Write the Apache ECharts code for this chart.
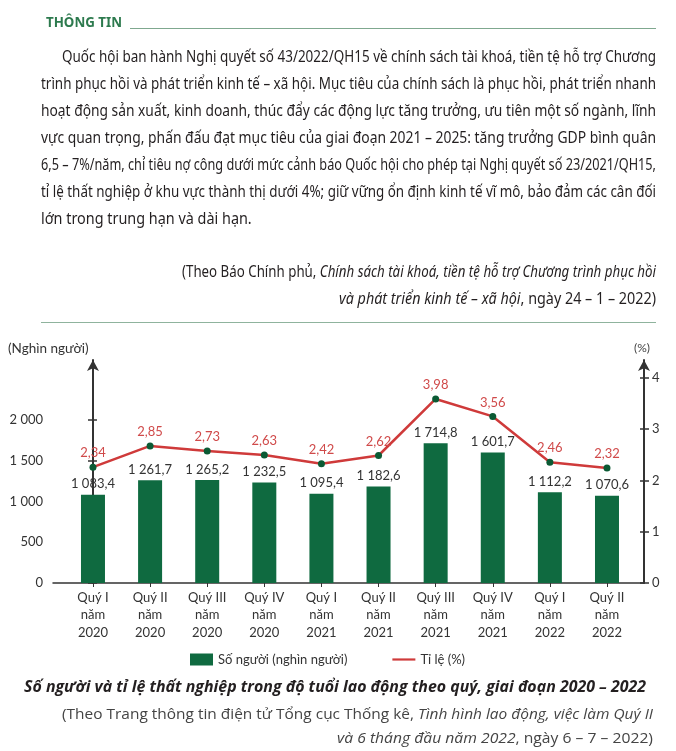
<!DOCTYPE html>
<html>
<head>
<meta charset="utf-8">
<script src="https://cdn.jsdelivr.net/npm/echarts@6/dist/echarts.min.js"></script>
<style>
html, body { margin: 0; padding: 0; background: #fff; }
#page { position: relative; width: 676px; height: 751px; overflow: hidden; }
#chart { position: absolute; left: 0; top: 0; width: 676px; height: 751px; }
.ln { position: absolute; height: 20px; line-height: 20px; white-space: nowrap; }
.ln > span { display: inline-block; white-space: nowrap; transform-origin: left center; }
.body { font-family: "Noto Sans", "Open Sans", sans-serif; font-size: 16px; color: #231f20; }
.head { font-family: "Noto Sans", "Open Sans", sans-serif; font-weight: bold; font-size: 15px; color: #2d7a4e; }
.cap { font-family: "Open Sans", "Noto Sans", sans-serif; color: #333; }
.rule { position: absolute; height: 0; }
</style>
</head>
<body>
<div id="page">
  <div id="chart"></div>

  <!-- phần thông tin phía trên -->
  <div class="ln head" data-fit="stretch" style="left:46px;top:11px;width:76px;"><span>THÔNG TIN</span></div>
  <div class="rule" style="left:130px;top:28px;width:526px;border-top:1px solid #7fa88f;"></div>

  <div class="ln body" data-fit="justify" data-s="0.9" style="left:62px;top:46px;width:594px;"><span>Quốc hội ban hành Nghị quyết số 43/2022/QH15 về chính sách tài khoá, tiền tệ hỗ trợ Chương</span></div>
  <div class="ln body" data-fit="justify" data-s="0.9" style="left:41px;top:73px;width:615px;"><span>trình phục hồi và phát triển kinh tế – xã hội. Mục tiêu của chính sách là phục hồi, phát triển nhanh</span></div>
  <div class="ln body" data-fit="justify" data-s="0.9" style="left:41px;top:100px;width:615px;"><span>hoạt động sản xuất, kinh doanh, thúc đẩy các động lực tăng trưởng, ưu tiên một số ngành, lĩnh</span></div>
  <div class="ln body" data-fit="justify" data-s="0.9" style="left:41px;top:127px;width:615px;"><span>vực quan trọng, phấn đấu đạt mục tiêu của giai đoạn 2021 – 2025: tăng trưởng GDP bình quân</span></div>
  <div class="ln body" data-fit="justify" data-s="0.9" style="left:41px;top:154px;width:615px;"><span>6,5 – 7%/năm, chỉ tiêu nợ công dưới mức cảnh báo Quốc hội cho phép tại Nghị quyết số 23/2021/QH15,</span></div>
  <div class="ln body" data-fit="justify" data-s="0.9" style="left:41px;top:181px;width:615px;"><span>tỉ lệ thất nghiệp ở khu vực thành thị dưới 4%; giữ vững ổn định kinh tế vĩ mô, bảo đảm các cân đối</span></div>
  <div class="ln body" data-fit="scale" data-s="0.9" style="left:41px;top:208px;width:615px;"><span>lớn trong trung hạn và dài hạn.</span></div>

  <div class="ln body" data-fit="stretch" style="left:182px;top:261px;width:474px;"><span>(Theo Báo Chính phủ, <i>Chính sách tài khoá, tiền tệ hỗ trợ Chương trình phục hồi</i></span></div>
  <div class="ln body" data-fit="stretch" style="left:339px;top:288px;width:317px;"><span><i>và phát triển kinh tế – xã hội</i>, ngày 24 – 1 – 2022)</span></div>
  <div class="rule" style="left:41px;top:322px;width:615px;border-top:1.5px solid #8fb39d;"></div>

  <!-- tên biểu đồ và nguồn -->
  <div class="ln cap" data-fit="stretch" style="left:24px;top:676px;width:622px;font-size:15.5px;font-weight:bold;font-style:italic;color:#231f20;"><span>Số người và tỉ lệ thất nghiệp trong độ tuổi lao động theo quý, giai đoạn 2020 – 2022</span></div>
  <div class="ln cap" data-fit="stretch" style="left:62px;top:703px;width:591px;font-size:15px;color:#444;"><span>(Theo Trang thông tin điện tử Tổng cục Thống kê, <i>Tình hình lao động, việc làm Quý II</i></span></div>
  <div class="ln cap" data-fit="stretch" style="left:337px;top:727px;width:316px;font-size:15px;color:#444;"><span><i>và 6 tháng đầu năm 2022</i>, ngày 6 – 7 – 2022)</span></div>
</div>

<script>
// dữ liệu
var quarters = [
  'Quý I\nnăm\n2020', 'Quý II\nnăm\n2020', 'Quý III\nnăm\n2020', 'Quý IV\nnăm\n2020',
  'Quý I\nnăm\n2021', 'Quý II\nnăm\n2021', 'Quý III\nnăm\n2021', 'Quý IV\nnăm\n2021',
  'Quý I\nnăm\n2022', 'Quý II\nnăm\n2022'
];
var soNguoi = [1083.4, 1261.7, 1265.2, 1232.5, 1095.4, 1182.6, 1714.8, 1601.7, 1112.2, 1070.6];
var tiLe = [2.34, 2.85, 2.73, 2.63, 2.42, 2.62, 3.98, 3.56, 2.46, 2.32];
var leftTicks = [0, 500, 1000, 1500, 2000];
var rightTicks = [0, 1, 2, 3, 4];
var catIndex = [0, 1, 2, 3, 4, 5, 6, 7, 8, 9];

var NAME_BAR = 'Số người (nghìn người)';
var NAME_LINE = 'Tỉ lệ (%)';

function groupThousands(n) {
  return String(n).replace(/\B(?=(\d{3})+(?!\d))/g, ' ');
}
function fmtBar(v) {
  var p = v.toFixed(1).split('.');
  return groupThousands(p[0]) + ',' + p[1];
}
function fmtRate(v) {
  return v.toFixed(2).replace('.', ',');
}

var FONT = 'Lato, "Open Sans", "Noto Sans", sans-serif';
var AXIS = '#333';

var chart = echarts.init(document.getElementById('chart'), null, { renderer: 'canvas' });

var gridBox = { left: 53, right: 32, top: 360, bottom: 168 };

var option = {
  animation: false,
  textStyle: { fontFamily: FONT },
  grid: [
    Object.assign({ containLabel: false }, gridBox),
    Object.assign({ containLabel: false }, gridBox)
  ],
  graphic: [
    { type: 'text', left: 8, top: 342, style: { text: '(Nghìn người)', fill: '#333', font: '13.5px ' + FONT } },
    { type: 'text', left: 634, top: 342, style: { text: '(%)', fill: '#444', font: '12px ' + FONT } }
  ],
  legend: {
    left: 190,
    top: 653,
    padding: 0,
    itemWidth: 23,
    itemHeight: 12,
    itemGap: 45,
    symbolKeepAspect: true,
    textStyle: { fontSize: 13, color: '#333', fontFamily: FONT },
    data: [
      { name: NAME_BAR, icon: 'rect', itemStyle: { color: '#0f6a40' } },
      { name: NAME_LINE, icon: 'path://M0,0H23V2.2H0Z', itemStyle: { color: '#cf3a3a' } }
    ]
  },
  xAxis: [
    {
      type: 'value',
      gridIndex: 0,
      min: -0.7,
      max: 9.648,
      splitLine: { show: false },
      axisLine: { show: true, lineStyle: { color: AXIS, width: 1.5 } },
      axisTick: { show: true, length: 4, customValues: catIndex, lineStyle: { color: AXIS } },
      axisLabel: {
        customValues: catIndex,
        formatter: function (v) { return quarters[Math.round(v)]; },
        color: '#333',
        fontSize: 13,
        lineHeight: 17.5,
        margin: 6
      }
    },
    { type: 'value', gridIndex: 1, min: -0.7, max: 9.648, show: false }
  ],
  yAxis: [
    {
      type: 'value',
      gridIndex: 0,
      position: 'left',
      min: 0,
      max: 2736,
      splitLine: { show: false },
      axisLine: { show: true, symbol: ['none', 'arrow'], symbolSize: [9, 11], lineStyle: { color: AXIS, width: 2 } },
      axisTick: { show: true, length: 5, customValues: leftTicks, lineStyle: { color: AXIS, width: 1.5 } },
      axisLabel: {
        customValues: leftTicks,
        formatter: function (v) { return groupThousands(v); },
        color: '#333',
        fontSize: 13,
        margin: 10
      }
    },
    {
      type: 'value',
      gridIndex: 0,
      position: 'right',
      min: 0,
      max: 4.351,
      splitLine: { show: false },
      axisLine: { show: true, symbol: ['none', 'arrow'], symbolSize: [9, 11], lineStyle: { color: AXIS, width: 2 } },
      axisTick: { show: true, length: 5, customValues: rightTicks, lineStyle: { color: AXIS, width: 1.5 } },
      axisLabel: {
        customValues: rightTicks,
        color: '#333',
        fontSize: 13,
        margin: 8
      }
    },
    // thang vẽ của đường tỉ lệ (theo hình gốc), không hiển thị
    { type: 'value', gridIndex: 0, position: 'right', min: -0.445, max: 4.916, show: false },
    // vạch chia phía trong để tạo dấu "+"
    {
      type: 'value', gridIndex: 1, position: 'left', min: 0, max: 2736,
      splitLine: { show: false }, axisLine: { show: false }, axisLabel: { show: false },
      axisTick: { show: true, inside: true, length: 4, customValues: leftTicks, lineStyle: { color: AXIS, width: 1.5 } }
    },
    {
      type: 'value', gridIndex: 1, position: 'right', min: 0, max: 4.351,
      splitLine: { show: false }, axisLine: { show: false }, axisLabel: { show: false },
      axisTick: { show: true, inside: true, length: 4, customValues: rightTicks, lineStyle: { color: AXIS, width: 1.5 } }
    }
  ],
  series: [
    {
      name: NAME_BAR,
      type: 'bar',
      xAxisIndex: 0,
      yAxisIndex: 0,
      barWidth: 24,
      data: soNguoi.map(function (v, i) { return [i, v]; }),
      itemStyle: { color: '#0f6a40' },
      label: {
        show: true,
        position: 'top',
        distance: 4,
        color: '#333',
        fontSize: 13,
        formatter: function (p) { return fmtBar(p.value[1]); }
      }
    },
    {
      name: NAME_LINE,
      type: 'line',
      xAxisIndex: 0,
      yAxisIndex: 2,
      data: tiLe.map(function (v, i) { return [i, v]; }),
      symbol: 'circle',
      symbolSize: 7,
      itemStyle: { color: '#0b5a34' },
      lineStyle: { color: '#cf3a3a', width: 2.5 },
      label: {
        show: true,
        position: 'top',
        distance: 4,
        color: '#d04a4a',
        fontSize: 13,
        formatter: function (p) { return fmtRate(p.value[1]); }
      },
      z: 5
    }
  ]
};

chart.setOption(option);

// căn dòng chữ cho khớp bề rộng: co ngang, giãn cách từ, hoặc kéo đúng bề rộng
var lines = document.querySelectorAll('.ln');
for (var i = 0; i < lines.length; i++) {
  var el = lines[i];
  var span = el.firstElementChild;
  var target = el.clientWidth;
  var nat = span.getBoundingClientRect().width;
  var mode = el.getAttribute('data-fit');
  var base = parseFloat(el.getAttribute('data-s') || '1');
  var s = base;
  if (mode === 'stretch') {
    s = target / nat;
  } else if (nat * base > target) {
    s = target / nat;
  } else if (mode === 'justify') {
    var n = (span.textContent.match(/ /g) || []).length;
    if (n) span.style.wordSpacing = ((target / base - nat) / n) + 'px';
  }
  span.style.transform = 'scaleX(' + s + ')';
}
</script>
</body>
</html>
